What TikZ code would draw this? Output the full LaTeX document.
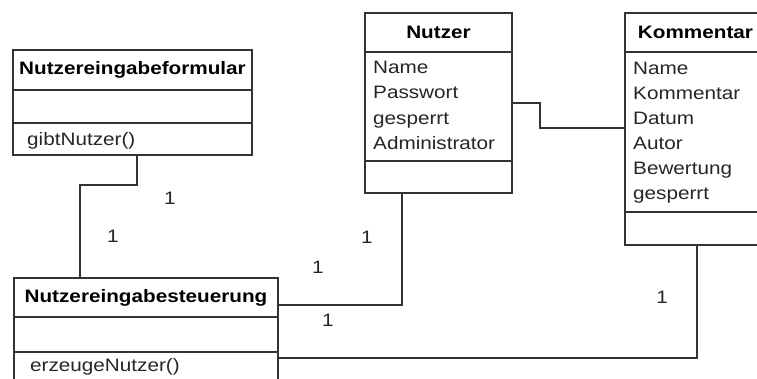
\documentclass[tikz,border=0pt]{standalone}
\usepackage{fontspec}
\setmainfont{Liberation Sans}[FakeStretch=1.15]
\usetikzlibrary{positioning}

\tikzset{
  umlhead/.style={draw=black!80, line width=1.4pt, fill=white, inner sep=0pt, outer sep=0pt,
    font=\fontsize{18}{22}\selectfont\bfseries, anchor=north west},
  umlpart/.style={draw=black!80, line width=1.4pt, fill=white, inner sep=0pt, outer sep=0pt,
    below=0pt of #1},
  umltext/.style={font=\fontsize{18}{22}\selectfont, text=black!85, inner sep=0pt, anchor=base west},
  assoc/.style={draw=black!80, line width=1.4pt},
  mult/.style={font=\fontsize{18}{22}\selectfont, text=black!85, inner sep=0pt},
}

\begin{document}
\begin{tikzpicture}[x=1pt, y=-1pt]
\clip (0,0) rectangle (757,378);
\fill[white] (0,0) rectangle (757,378);

% Nutzereingabeformular
\node[umlhead, minimum width=239pt, minimum height=40pt] (form) at (13,50) {Nutzereingabeformular};
\node[umlpart=form, minimum width=239pt, minimum height=33pt] (form-attr) {};
\node[umlpart=form-attr, minimum width=239pt, minimum height=32pt] (form-ops) {};
\node[umltext] (form-op1) at (27,145.5) {gibtNutzer()};

% Nutzer
\node[umlhead, minimum width=147pt, minimum height=39pt] (nu) at (365,13) {Nutzer};
\node[umlpart=nu, minimum width=147pt, minimum height=109pt] (nu-attr) {};
\node[umlpart=nu-attr, minimum width=147pt, minimum height=32pt] (nu-ops) {};
\foreach \t [count=\i] in {Name,Passwort,gesperrt,Administrator}
  \node[umltext] (nu-a\i) at (373,{73.5+25.3*(\i-1)}) {\t};

% Kommentar
\node[umlhead, minimum width=141pt, minimum height=39pt] (kom) at (625,13) {Kommentar};
\node[umlpart=kom, minimum width=141pt, minimum height=160pt] (kom-attr) {};
\node[umlpart=kom-attr, minimum width=141pt, minimum height=33pt] (kom-ops) {};
\foreach \t [count=\i] in {Name,Kommentar,Datum,Autor,Bewertung,gesperrt}
  \node[umltext] (kom-a\i) at (633,{74.5+25*(\i-1)}) {\t};

% Nutzereingabesteuerung
\node[umlhead, minimum width=264pt, minimum height=39pt] (steu) at (14,278) {Nutzereingabesteuerung};
\node[umlpart=steu, minimum width=264pt, minimum height=35pt] (steu-attr) {};
\node[umlpart=steu-attr, minimum width=264pt, minimum height=48pt] (steu-ops) {};
\node[umltext] (steu-op1) at (30,371) {erzeugeNutzer()};

% Assoziationen
\draw[assoc] ([xshift=4.5pt]form-ops.south) -- ++(0,30) -| ([xshift=-66pt]steu.north);
\draw[assoc] ([yshift=-7.5pt]steu.east) -| ([xshift=-36.5pt]nu-ops.south);
\draw[assoc] ([yshift=3.5pt]nu-attr.east) -- ++(28,0) |- ([yshift=4pt]kom-attr.west);
\draw[assoc] ([xshift=1.5pt]kom-ops.south) |- ([yshift=18pt]steu-ops.east);

% Multiplizitaeten
\node[mult] (m1) at (170,198) {1};
\node[mult] (m2) at (113,236) {1};
\node[mult] (m3) at (367,237) {1};
\node[mult] (m4) at (318,267) {1};
\node[mult] (m5) at (328,320) {1};
\node[mult] (m6) at (662,297) {1};

\end{tikzpicture}
\end{document}
